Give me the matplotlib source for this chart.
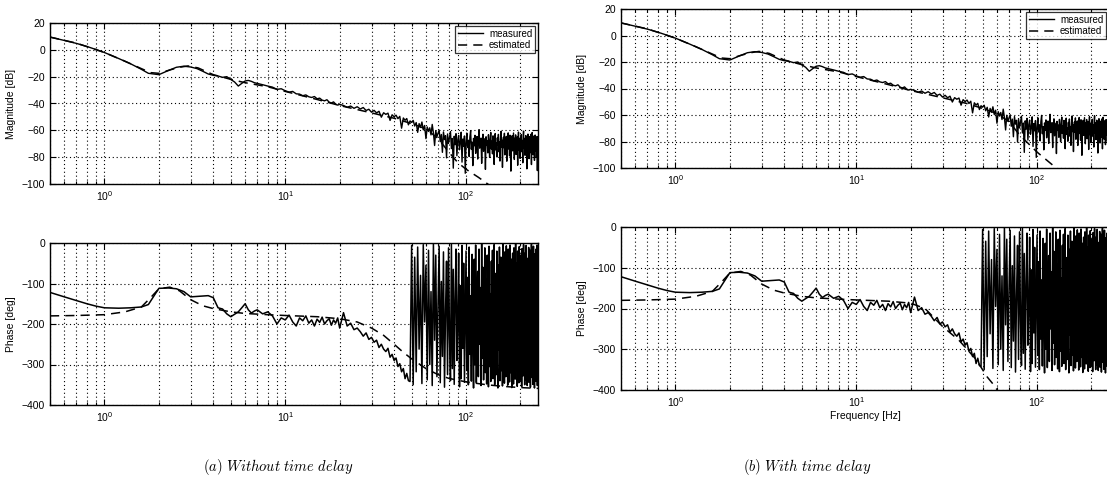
import numpy as np
import matplotlib
matplotlib.use("Agg")
import matplotlib.pyplot as plt
from matplotlib.ticker import LogLocator, FixedLocator, NullFormatter, FuncFormatter

plt.rcParams['font.family'] = ['Liberation Sans', 'DejaVu Sans']
plt.rcParams['mathtext.fontset'] = 'cm'

# ---------------- measured data (shared by both panels) ----------------
f_lo = [0.5, 0.6, 0.7, 0.8, 0.9, 1.0, 1.2, 1.4, 1.6, 1.75, 2.0, 2.25, 2.5, 2.75,
        3.0, 3.25, 3.5, 3.75, 4.0, 4.25, 4.5, 4.75, 5.0, 5.25, 5.5, 5.75, 6.0,
        6.25, 6.5, 6.75, 7.0, 7.5, 8.0, 8.5, 9.0, 9.5, 10, 10.5, 11, 11.5, 12,
        12.5, 13, 13.5, 14, 14.5, 15, 15.5, 16, 16.5, 17, 17.5, 18, 18.5, 19,
        19.5, 20]
mag_lo = [9.5, 7.0, 4.8, 2.5, 0.2, -2.0, -6.5, -10.5, -14.5, -17.5, -18.5, -15.5,
          -13.0, -12.2, -12.8, -14.0, -16.0, -18.0, -19.0, -19.5, -20.5, -20.0,
          -22.0, -24.0, -27.0, -25.0, -23.2, -22.8, -23.5, -24.5, -25.0, -26.0,
          -27.0, -27.8, -29.5, -29.0, -30.5, -31.5, -31.0, -32.8, -33.0, -34.2,
          -33.6, -35.0, -35.5, -34.8, -36.5, -36.0, -37.5, -38.0, -37.2, -39.0,
          -39.6, -38.8, -40.5, -41.2, -40.6]
ph_lo = [-122, -133, -142, -150, -156, -160, -161, -160, -158, -152, -112, -111,
         -113, -120, -133, -132, -131, -130, -135, -160, -163, -175, -182, -176,
         -170, -160, -150, -165, -173, -168, -165, -175, -170, -180, -200, -185,
         -190, -178, -195, -205, -185, -192, -180, -198, -190, -205, -188, -196,
         -183, -200, -192, -187, -203, -190, -198, -185, -210]

f_hi = np.arange(21, 251, 1)  # 1 Hz frequency bins, 21..250 Hz
mag_hi = [
    -41.5, -42.8, -41.9, -43.6, -42.4, -44.1, -43.0, -45.2, -44.3, -46.5,
    -45.1, -47.0, -45.8, -50.2, -46.9, -48.1, -47.2, -52.6, -48.4, -49.9,
    -48.7, -51.3, -49.6, -58.4, -50.8, -52.5, -51.2, -55.9, -53.0, -54.1,
    -52.6, -56.8, -54.2, -61.5, -55.0, -57.9, -53.8, -59.6, -56.4, -66.2,
    -57.5, -60.8, -58.1, -63.4, -55.6, -61.9, -71.3, -60.2, -64.7, -62.3,
    -59.8, -68.5, -63.1, -76.4, -61.2, -66.9, -64.0, -80.5, -62.7, -69.8,
    -65.3, -60.9, -73.6, -66.1, -88.2, -64.4, -70.7, -62.5, -78.9, -67.2,
    -63.8, -74.5, -68.6, -61.4, -83.7, -66.5, -71.9, -64.2, -92.0, -69.3,
    -62.1, -72.8, -67.4, -79.5, -65.0, -60.3, -74.1, -68.8, -86.3, -66.0,
    -71.5, -63.7, -77.2, -69.0, -64.6, -81.4, -67.9, -59.5, -73.3, -70.1,
    -65.8, -84.6, -68.3, -62.9, -75.7, -70.9, -66.2, -89.1, -64.8, -71.2,
    -67.6, -76.8, -63.3, -70.4, -80.2, -66.7, -61.6, -73.9, -68.1, -77.5,
    -64.1, -71.7, -85.4, -67.0, -62.4, -74.6, -69.5, -79.8, -65.6, -70.8,
    -63.0, -76.0, -68.7, -82.9, -66.4, -60.8, -72.5, -67.3, -87.6, -69.9,
    -65.2, -73.0, -62.2, -78.3, -68.0, -71.4, -64.5, -83.0, -66.8, -74.2,
    -61.9, -70.0, -67.7, -79.0, -63.6, -72.2, -90.4, -66.3, -69.7, -64.0,
    -75.3, -68.4, -62.0, -71.0, -81.7, -65.9, -70.5, -63.4, -77.9, -67.1,
    -72.7, -64.9, -86.0, -68.2, -61.3, -74.8, -66.6, -70.3, -80.9, -65.4,
    -69.1, -63.2, -75.9, -67.5, -71.8, -84.2, -64.3, -60.6, -73.5, -68.9,
    -66.0, -78.6, -70.6, -63.9, -72.4, -67.8, -88.7, -65.1, -69.4, -62.8,
    -74.0, -68.5, -81.1, -64.7, -71.1, -66.4, -76.6, -63.0, -70.2, -85.5,
    -67.0, -61.7, -73.7, -69.2, -78.2, -65.5, -72.0, -64.1, -82.4, -68.6,
    -63.5, -75.1, -70.0, -66.3, -80.0, -71.6, -64.6, -90.0, -69.0, -76.0]
ph_hi = [
    -172, -205, -198, -214, -210, -219, -230, -222, -238, -233,
    -245, -240, -258, -250, -262, -268, -260, -282, -275, -290,
    -284, -305, -298, -318, -310, -335, -322, -340, -342, -6,
    -350, -35, -318, -10, -262, -80, -347, -4, -195, -55,
    -338, -18, -300, -120, -352, -2, -240, -30, -330, -150,
    -8, -345, -95, -280, -22, -356, -170, -45, -325, -12,
    -230, -340, -3, -310, -65, -349, -140, -15, -290, -200,
    -25, -355, -105, -335, -6, -260, -50, -344, -180, -20,
    -315, -85, -350, -10, -275, -130, -341, -28, -220, -358,
    -40, -300, -5, -345, -160, -70, -330, -15, -250, -110,
    -352, -2, -285, -60, -338, -190, -12, -320, -90, -348,
    -30, -240, -355, -8, -305, -125, -342, -45, -270, -18,
    -335, -150, -4, -350, -210, -75, -325, -20, -295, -358,
    -55, -265, -10, -340, -170, -35, -315, -100, -353, -3,
    -280, -65, -346, -22, -235, -330, -7, -300, -140, -351,
    -15, -255, -90, -343, -5, -320, -185, -40, -357, -115,
    -25, -290, -348, -12, -225, -70, -336, -2, -310, -160,
    -50, -354, -20, -270, -120, -345, -9, -300, -200, -30,
    -340, -80, -355, -14, -250, -145, -328, -4, -285, -60,
    -350, -25, -215, -338, -6, -305, -95, -352, -38, -260,
    -175, -11, -344, -130, -290, -18, -356, -70, -230, -3,
    -332, -110, -48, -349, -205, -8, -315, -155, -358, -27,
    -270, -85, -341, -15, -300, -190, -5, -352, -120, -40]

# ---------------- estimated models ----------------
f_est_mag_a = [0.5, 0.7, 1.0, 1.3, 1.6, 1.8, 2.0, 2.3, 2.6, 2.9, 3.3, 3.7, 4.0, 5, 6,
               8, 10, 15, 20, 30, 40, 50, 60, 70, 80, 90, 100, 117, 135]
mag_est_a = [9.5, 5.0, -2.0, -8.5, -14.0, -17.0, -17.5, -15.0, -13.0, -12.0, -13.5,
             -16.5, -18.5, -22.0, -24.5, -27.5, -31.0, -37.0, -41.5, -47.0, -51.0,
             -55.0, -59.0, -66.0, -76.0, -84.0, -89.0, -95.0, -101.0]
f_est_mag_b = [0.5, 0.7, 1.0, 1.3, 1.6, 1.8, 2.0, 2.3, 2.6, 2.9, 3.3, 3.7, 4.0, 5, 6,
               8, 10, 15, 20, 30, 40, 50, 60, 70, 80, 100, 125, 135]
mag_est_b = [9.5, 5.0, -2.0, -8.5, -14.0, -17.0, -17.5, -15.0, -13.0, -12.0, -13.5,
             -16.5, -18.5, -22.0, -24.5, -27.5, -31.0, -37.0, -41.5, -47.0, -51.0,
             -55.0, -59.0, -65.0, -75.0, -88.0, -99.0, -103.0]

f_est_ph_a = [0.5, 0.7, 1.0, 1.3, 1.6, 1.8, 2.0, 2.3, 2.6, 3.0, 3.5, 4.0, 5, 6, 8, 10,
              15, 20, 25, 30, 35, 40, 45, 50, 60, 70, 80, 100, 130, 160, 200, 250]
ph_est_a = [-180, -179, -177, -170, -158, -135, -113, -109, -118, -140, -155, -162,
            -170, -174, -177, -179, -182, -187, -195, -210, -228, -250, -270, -286,
            -310, -325, -334, -343, -350, -354, -357, -359]
f_est_ph_b = [0.5, 0.7, 1.0, 1.3, 1.6, 1.8, 2.0, 2.3, 2.6, 3.0, 3.5, 4.0, 5, 6, 8, 10,
              15, 20, 24, 30, 37, 46, 53, 59, 62]
ph_est_b = [-180, -179, -177, -170, -158, -135, -113, -109, -118, -140, -155, -162,
            -170, -174, -177, -179, -182, -187, -200, -244, -278, -325, -368, -393,
            -410]

mag_ticks = [20, 0, -20, -40, -60, -80, -100]
ph_ticks = [0, -100, -200, -300, -400]
captions = [r'$\mathit{(a)\ Without\ time\ delay}$', r'$\mathit{(b)\ With\ time\ delay}$']

f_meas = np.concatenate([f_lo, f_hi])
mag_meas = np.concatenate([mag_lo, mag_hi])
ph_meas = np.concatenate([ph_lo, ph_hi])

W, H = 1107, 497
fig = plt.figure(figsize=(W / 100, H / 100), dpi=100)


def box(x0, top, x1, bottom):
    return [x0 / W, 1 - bottom / H, (x1 - x0) / W, (bottom - top) / H]


def dec_fmt(v, pos):
    e = int(round(np.log10(v)))
    return r'$\mathregular{10^{%d}}$' % e


GRID = dict(linestyle=(0, (1, 2.5)), color='black', linewidth=0.8)


def style(ax, yticks, ylim, ylabel, xlabel=None):
    ax.set_xscale('log')
    ax.set_xlim(0.5, 250)
    ax.set_ylim(*ylim)
    ax.set_yticks(yticks)
    ax.set_yticklabels([('\u2212%d' % -t) if t < 0 else '%d' % t for t in yticks])
    ax.xaxis.set_major_locator(FixedLocator([1, 10, 100]))
    ax.xaxis.set_major_formatter(FuncFormatter(dec_fmt))
    ax.xaxis.set_minor_locator(LogLocator(base=10, subs=np.arange(2, 10), numticks=20))
    ax.xaxis.set_minor_formatter(NullFormatter())
    ax.grid(True, which='major', **GRID)
    ax.grid(True, which='minor', axis='x', **GRID)
    ax.tick_params(which='both', direction='in', top=True, right=True,
                   labelsize=7.5, width=0.8)
    ax.tick_params(which='major', length=4)
    ax.tick_params(which='minor', length=2)
    ax.tick_params(axis='x', pad=4)
    for s in ax.spines.values():
        s.set_linewidth(1.0)
    ax.set_ylabel(ylabel, fontsize=7.5, labelpad=4)
    if xlabel:
        ax.set_xlabel(xlabel, fontsize=7.5, labelpad=1)


panels = [
    dict(mag_box=box(50, 23, 538, 184), ph_box=box(50, 243, 538, 405),
         fm=f_est_mag_a, m=mag_est_a, fp=f_est_ph_a, p=ph_est_a, xlabel=None, cap_x=278),
    dict(mag_box=box(621, 9, 1109, 168), ph_box=box(621, 227, 1109, 390),
         fm=f_est_mag_b, m=mag_est_b, fp=f_est_ph_b, p=ph_est_b,
         xlabel='Frequency [Hz]', cap_x=807),
]

for i, pnl in enumerate(panels):
    axm = fig.add_axes(pnl['mag_box'])
    axm.plot(f_meas, mag_meas, color='black', linewidth=1.0, label='measured')
    axm.plot(pnl['fm'], pnl['m'], color='black', linewidth=1.1,
             linestyle=(0, (6, 4)), label='estimated')
    style(axm, mag_ticks, (-100, 20), 'Magnitude [dB]')
    leg = axm.legend(loc='upper right', fontsize=7, frameon=True, fancybox=False,
                     handlelength=2.6, borderpad=0.3, labelspacing=0.15,
                     handletextpad=0.6, borderaxespad=0.3)
    leg.get_frame().set_edgecolor('black')
    leg.get_frame().set_linewidth(0.9)

    axp = fig.add_axes(pnl['ph_box'])
    axp.plot(f_meas, ph_meas, color='black', linewidth=1.1)
    axp.plot(pnl['fp'], pnl['p'], color='black', linewidth=1.1, linestyle=(0, (6, 4)))
    style(axp, ph_ticks, (-400, 0), 'Phase [deg]', pnl['xlabel'])

    fig.text(pnl['cap_x'] / W, 1 - 467 / H, captions[i], ha='center', va='center',
             fontsize=10.5)

fig.savefig('out.png', dpi=100)
